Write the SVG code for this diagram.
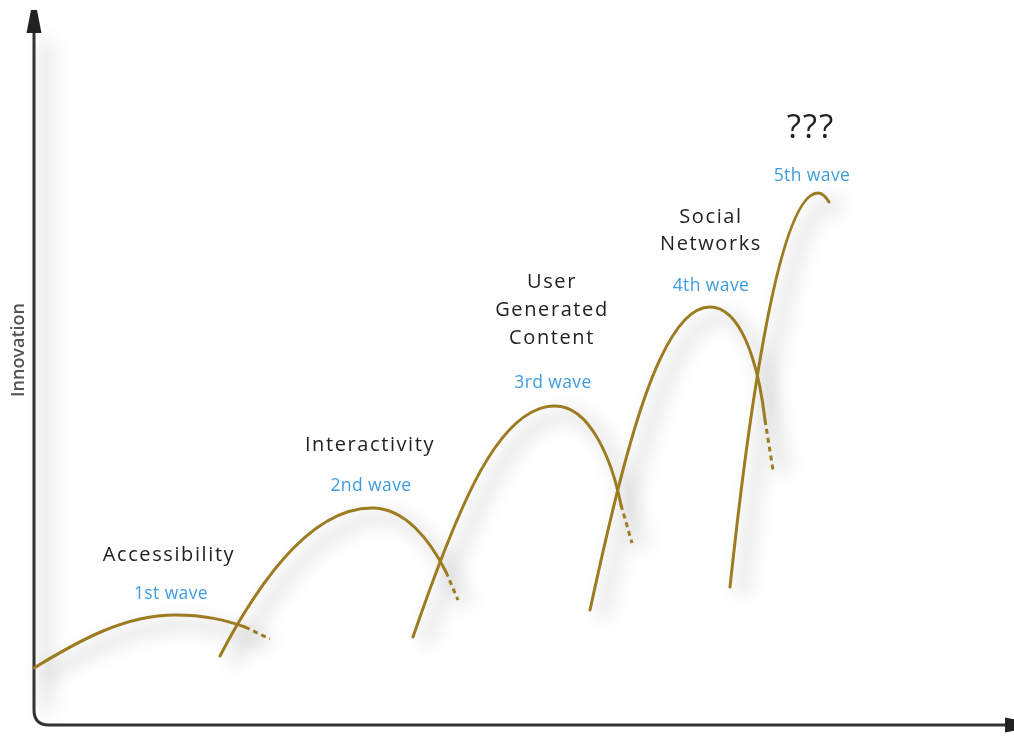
<svg xmlns="http://www.w3.org/2000/svg" width="1014" height="740" viewBox="0 0 1014 740">
  <style>
    .axis { fill: none; stroke: #333; stroke-width: 3; }
    .wave { fill: none; stroke: #9d7b20; stroke-width: 3; stroke-linecap: round; }
    .tail { fill: none; stroke: #9d7b20; stroke-width: 3; stroke-dasharray: 5 4; }
    .shade { fill: none; stroke: #000; stroke-width: 10; opacity: 0.13; }
    .title { font-family: "Open Sans", "Liberation Sans", sans-serif; font-size: 20px; fill: #222; text-anchor: middle; letter-spacing: 1.6px; }
    .sub { font-family: "Open Sans", "Liberation Sans", sans-serif; font-size: 17.5px; fill: #3d9de0; text-anchor: middle; letter-spacing: 0.4px; }
    .ylabel { font-family: "Open Sans", "Liberation Sans", sans-serif; font-size: 18px; font-weight: 600; fill: #555; text-anchor: middle; }
  </style>
  <defs>
    <marker id="arrow" markerUnits="userSpaceOnUse" markerWidth="24" markerHeight="16" viewBox="0 0 24 16" refX="0" refY="8" orient="auto-start-reverse">
      <path d="M0,0.5 L23,5 L23,11 L0,15.5 Z" fill="#222"/>
    </marker>
    <filter id="soft" x="-20%" y="-20%" width="140%" height="140%">
      <feGaussianBlur stdDeviation="9"/>
    </filter>
  </defs>

  <rect width="1014" height="740" fill="#fff"/>

  <!-- soft shading beside the axis and the wave curves -->
  <g filter="url(#soft)">
    <path class="shade" d="M46,40 L46,712" opacity="0.08"/>
    <path class="shade" d="M44,676 C90,650 135,625 185,625 C215,625 235,632 270,645"/>
    <path class="shade" d="M232,664 C282,570 332,518 384,518 C417,518 442,550 466,605"/>
    <path class="shade" d="M425,645 C472,510 512,416 567,416 C602,416 624,470 642,548"/>
    <path class="shade" d="M602,618 C637,460 672,317 722,317 C752,317 770,370 783,475"/>
    <path class="shade" d="M742,595 C762,410 792,203 830,203 C834,203 838,207 841,212"/>
  </g>

  <!-- axes -->
  <g id="axes">
    <path class="axis" d="M34,33 L34,710 Q34,725 49,725 L1005,725" marker-start="url(#arrow)" marker-end="url(#arrow)"/>
    <text class="ylabel" transform="translate(24,350) rotate(-90)">Innovation</text>
  </g>

  <!-- wave curves -->
  <g id="connectors">
    <path class="wave" d="M34,668 C80,640 125,615 175,615 C205,615 225,620 245,627"/>
    <path class="tail" d="M245,627 L270,639"/>
    <path class="wave" d="M220,656 C270,560 320,508 372,508 C405,508 430,540 446,572"/>
    <path class="tail" d="M446,572 L458,600"/>
    <path class="wave" d="M413,637 C460,500 500,406 555,406 C590,406 612,460 621,505"/>
    <path class="tail" d="M621,505 L632,543"/>
    <path class="wave" d="M590,610 C625,450 660,307 710,307 C740,307 758,360 765,420"/>
    <path class="tail" d="M765,420 L773,470"/>
    <path class="wave" d="M730,587 C750,400 780,193 818,193 C822,193 826,197 829,202"/>
  </g>

  <!-- wave labels -->
  <g id="wave1">
    <text class="title" x="169" y="561">Accessibility</text>
    <text class="sub" x="171" y="599">1st wave</text>
  </g>
  <g id="wave2">
    <text class="title" x="370" y="451">Interactivity</text>
    <text class="sub" x="371" y="491">2nd wave</text>
  </g>
  <g id="wave3">
    <text class="title" x="552" y="288">User</text>
    <text class="title" x="552" y="316">Generated</text>
    <text class="title" x="552" y="344">Content</text>
    <text class="sub" x="553" y="388">3rd wave</text>
  </g>
  <g id="wave4">
    <text class="title" x="711" y="223">Social</text>
    <text class="title" x="711" y="250">Networks</text>
    <text class="sub" x="711" y="291">4th wave</text>
  </g>
  <g id="wave5">
    <text class="title" x="811" y="138" style="font-size:33px; letter-spacing:2px">???</text>
    <text class="sub" x="812" y="181">5th wave</text>
  </g>
</svg>
